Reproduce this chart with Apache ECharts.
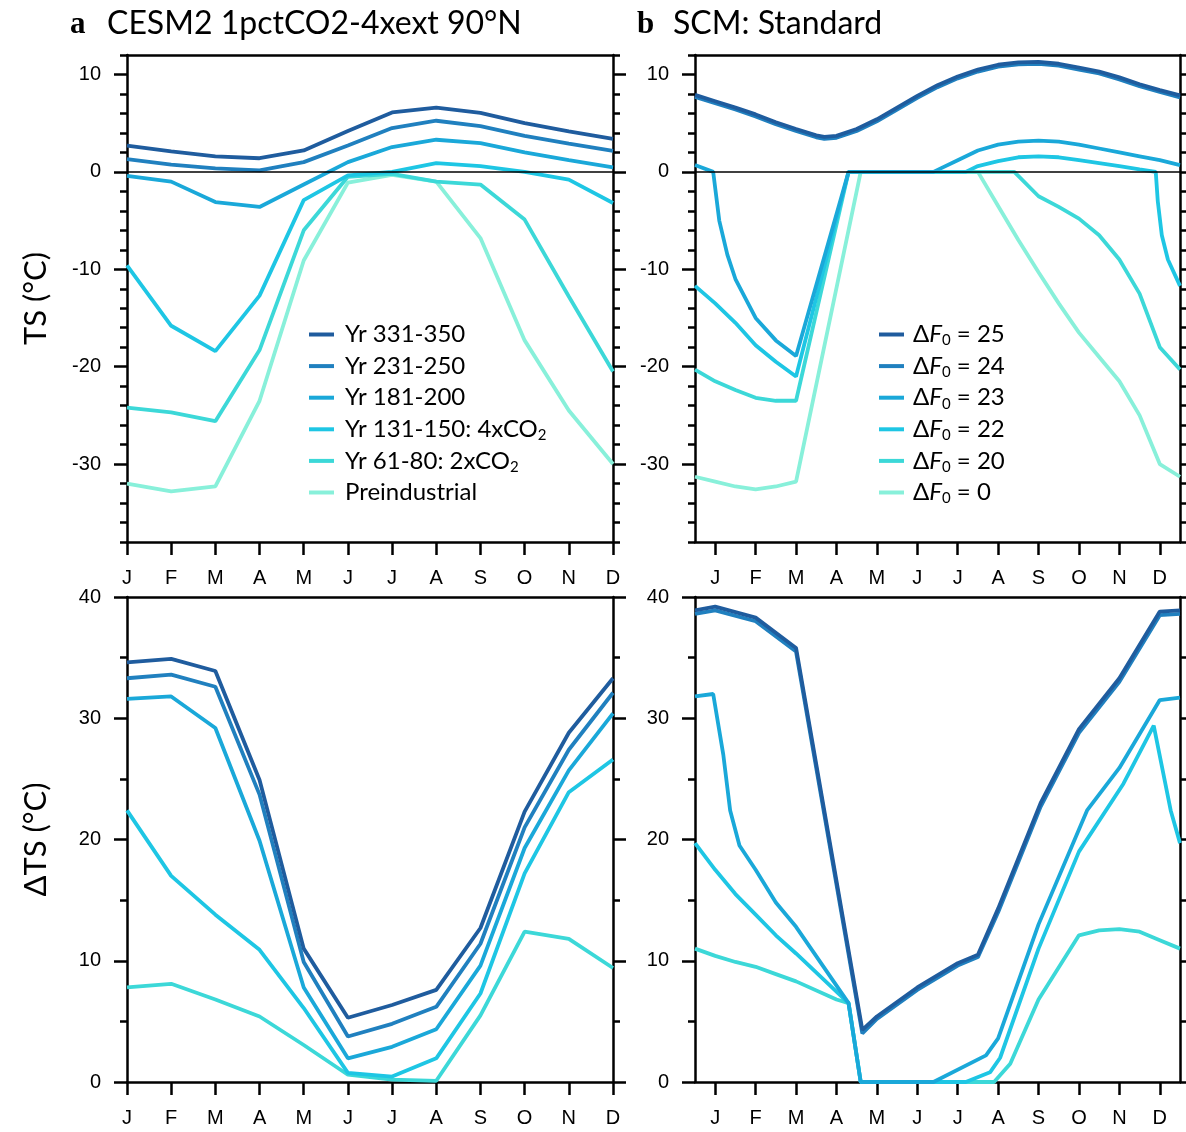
<!DOCTYPE html>
<html><head><meta charset="utf-8">
<script src="https://cdn.jsdelivr.net/npm/echarts@6/dist/echarts.min.js"></script>
<style>html,body{margin:0;padding:0;background:#fff}#c{width:1186px;height:1132px}</style>
</head><body><div id="c"></div>
<script>
// ---------- categories / ticks ----------
const months = ['J','F','M','A','M','J','J','A','S','O','N','D'];
const monthIdx = [0,1,2,3,4,5,6,7,8,9,10,11];
const tsTicks = [-30,-20,-10,0,10];
const dtsTicks = [0,10,20,30,40];

// ---------- panel a : CESM2 (monthly) ----------
const namesA = ['Yr 331-350','Yr 231-250','Yr 181-200','Yr 131-150: 4xCO2','Yr 61-80: 2xCO2','Preindustrial'];
const tsA331 = [2.7, 2.1, 1.6, 1.4, 2.2, 4.2, 6.1, 6.6, 6.05, 5.0, 4.15, 3.4];
const tsA231 = [1.3, 0.75, 0.35, 0.15, 1.0, 2.7, 4.5, 5.25, 4.7, 3.7, 2.9, 2.15];
const tsA181 = [-0.4, -1.0, -3.1, -3.6, -1.3, 1.0, 2.55, 3.3, 2.95, 2.0, 1.2, 0.45];
const tsA131 = [-9.6, -15.8, -18.4, -12.7, -2.9, -0.35, 0.0, 0.9, 0.6, 0.0, -0.8, -3.2];
const tsA61  = [-24.2, -24.7, -25.6, -18.3, -6.0, -0.5, -0.2, -1.0, -1.3, -4.9, -12.8, -20.5];
const tsAPI  = [-32.0, -32.8, -32.3, -23.5, -9.1, -1.1, -0.3, -1.0, -6.8, -17.3, -24.5, -30.0];

const dtsA331 = [34.6, 34.9, 33.9, 24.9, 11.0, 5.3, 6.35, 7.6, 12.7, 22.3, 28.8, 33.3];
const dtsA231 = [33.3, 33.6, 32.6, 23.7, 9.9, 3.75, 4.8, 6.2, 11.4, 21.0, 27.4, 32.1];
const dtsA181 = [31.6, 31.8, 29.2, 19.9, 7.8, 1.95, 2.9, 4.35, 9.6, 19.3, 25.7, 30.4];
const dtsA131 = [22.4, 17.0, 13.8, 10.9, 6.1, 0.75, 0.45, 1.95, 7.3, 17.2, 23.9, 26.6];
const dtsA61  = [7.8, 8.1, 6.8, 5.4, 3.05, 0.6, 0.2, 0.1, 5.5, 12.4, 11.8, 9.4];

// ---------- panel b : SCM ([month index, value]) ----------
const namesB = ['25','24','23','22','20','0'];
const tsB25 = [[-0.5,7.9],[0,7.25],[0.5,6.6],[1,5.9],[1.5,5.1],[2,4.4],[2.5,3.75],[2.7,3.6],[3,3.7],[3.5,4.4],[4,5.4],[4.5,6.6],[5,7.8],[5.5,8.9],[6,9.8],[6.5,10.5],[7,11.0],[7.5,11.25],[8,11.3],[8.5,11.1],[9,10.7],[9.5,10.3],[10,9.7],[10.5,9.0],[11,8.4],[11.5,7.85]];
const tsB24 = [[-0.5,7.7],[0,7.05],[0.5,6.4],[1,5.7],[1.5,4.9],[2,4.2],[2.5,3.55],[2.7,3.4],[3,3.5],[3.5,4.2],[4,5.2],[4.5,6.4],[5,7.6],[5.5,8.7],[6,9.6],[6.5,10.3],[7,10.8],[7.5,11.05],[8,11.1],[8.5,10.9],[9,10.5],[9.5,10.1],[10,9.5],[10.5,8.8],[11,8.2],[11.5,7.65]];
const tsB23 = [[-0.5,0.7],[-0.05,0],[0.1,-5],[0.3,-8.5],[0.5,-11],[1,-15],[1.5,-17.3],[2,-18.9],[3.3,0],[5.4,0],[6,1.2],[6.5,2.2],[7,2.8],[7.5,3.1],[8,3.2],[8.5,3.1],[9,2.8],[9.5,2.4],[10,2.0],[10.5,1.6],[11,1.2],[11.5,0.7]];
const tsB22 = [[-0.5,-11.7],[0,-13.5],[0.5,-15.5],[1,-17.8],[1.5,-19.5],[2,-21],[3.3,0],[6.2,0],[6.5,0.6],[7,1.1],[7.5,1.5],[8,1.6],[8.5,1.5],[9,1.2],[9.5,0.9],[10,0.6],[10.5,0.25],[10.9,0],[10.95,-3],[11.05,-6.5],[11.2,-9],[11.5,-11.7]];
const tsB20 = [[-0.5,-20.3],[0,-21.5],[0.5,-22.4],[1,-23.2],[1.5,-23.5],[2,-23.5],[3.3,0],[7.4,0],[8,-2.5],[8.5,-3.6],[9,-4.8],[9.5,-6.5],[10,-9],[10.5,-12.5],[11,-18],[11.5,-20.3]];
const tsB0  = [[-0.5,-31.3],[0,-31.8],[0.5,-32.3],[1,-32.6],[1.5,-32.3],[2,-31.8],[3.6,0],[6.5,0],[7,-3.5],[7.5,-7],[8,-10.3],[8.5,-13.5],[9,-16.5],[9.5,-19],[10,-21.5],[10.5,-25],[11,-30],[11.5,-31.3]];

const dtsB25 = [[-0.5,38.9],[0,39.2],[1,38.3],[2,35.8],[3.64,4.3],[4,5.4],[5,7.8],[6,9.8],[6.5,10.5],[7,14.3],[8.05,23],[9,29.1],[10,33.3],[11,38.8],[11.5,38.9]];
const dtsB24 = [[-0.5,38.6],[0,38.9],[1,38.0],[2,35.5],[3.64,4.0],[4,5.2],[5,7.6],[6,9.6],[6.5,10.3],[7,14.0],[8.05,22.7],[9,28.8],[10,33.0],[11,38.5],[11.5,38.6]];
const dtsB23 = [[-0.5,31.8],[-0.05,32.0],[0.2,27],[0.37,22.4],[0.6,19.5],[1,17.5],[1.5,14.8],[2,12.8],[3.3,6.5],[3.6,0],[5.4,0],[6.7,2.2],[7,3.6],[8,13],[9.2,22.4],[10,25.9],[11,31.5],[11.5,31.7]];
const dtsB22 = [[-0.5,19.7],[0,17.5],[0.5,15.5],[1,13.8],[1.5,12.1],[2,10.6],[3.3,6.5],[3.6,0],[6.2,0],[6.8,0.8],[7.05,2.0],[8,11],[9,19],[10.1,24.6],[10.85,29.4],[11.27,22.4],[11.5,19.7]];
const dtsB20 = [[-0.5,11],[0,10.4],[0.5,9.9],[1,9.5],[1.5,8.9],[2,8.3],[3,6.8],[3.3,6.5],[3.6,0],[6.9,0],[7.3,1.5],[8,6.8],[9,12.1],[9.5,12.5],[10,12.6],[10.5,12.4],[11,11.7],[11.5,11]];

// ---------- styling ----------
const colors = ['#1f5c9e','#2080bf','#1aa8d9','#1ec6e4','#3cd8d8','#88f0da'];
const LW = 3.8;
const AX = {color:'#000', width:2.5};
const tickFont = 'Liberation Sans, Arial, sans-serif';
const textFont = 'Lato, "Open Sans", sans-serif';

const grids = [
  {left:127, top:55, width:486, height:487},
  {left:695, top:55, width:485, height:487},
  {left:127, top:597, width:486, height:485},
  {left:695, top:597, width:485, height:485}
];

function xAxesFor(g, min, max) {
  return [
    {type:'value', gridIndex:g, position:'bottom', min, max,
     axisLine:{show:true, onZero:false, lineStyle:AX},
     axisTick:{show:true, inside:false, length:13, customValues:monthIdx, lineStyle:AX},
     axisLabel:{show:true, customValues:monthIdx, formatter:v=>months[Math.round(v)], fontSize:20, fontFamily:tickFont, color:'#000', margin:26},
     splitLine:{show:false}},
    {type:'value', gridIndex:g, position:'top', min, max,
     axisLine:{show:true, onZero:false, lineStyle:AX},
     axisTick:{show:false}, axisLabel:{show:false}, splitLine:{show:false}}
  ];
}
function yAxesFor(g, min, max, ticks, minorStep, name) {
  const base = {type:'value', gridIndex:g, min, max, splitLine:{show:false}};
  return [
    Object.assign({}, base, {position:'left',
      axisLine:{show:true, onZero:false, lineStyle:AX},
      axisTick:{show:true, length:13, customValues:ticks, lineStyle:AX},
      axisLabel:{show:true, customValues:ticks, fontSize:20, fontFamily:tickFont, color:'#000', margin:26},
      name:name, nameLocation:'middle', nameGap:76, nameRotate:90,
      nameTextStyle:{fontSize:31, fontFamily:textFont, color:'#000'}}),
    Object.assign({}, base, {position:'left', interval:minorStep,
      axisLine:{show:false, onZero:false}, axisTick:{show:true, length:7, lineStyle:AX}, axisLabel:{show:false}}),
    Object.assign({}, base, {position:'right',
      axisLine:{show:true, onZero:false, lineStyle:AX},
      axisTick:{show:true, length:13, customValues:ticks, lineStyle:AX}, axisLabel:{show:false}}),
    Object.assign({}, base, {position:'right', interval:minorStep,
      axisLine:{show:false, onZero:false}, axisTick:{show:true, length:7, lineStyle:AX}, axisLabel:{show:false}})
  ];
}

const xAxis = [].concat(
  xAxesFor(0, 0, 11), xAxesFor(1, -0.5, 11.5), xAxesFor(2, 0, 11), xAxesFor(3, -0.5, 11.5));
const yAxis = [].concat(
  yAxesFor(0, -38, 12, tsTicks, 2, 'TS (°C)'),
  yAxesFor(1, -38, 12, tsTicks, 2, ''),
  yAxesFor(2, 0, 40, dtsTicks, 5, 'ΔTS (°C)'),
  yAxesFor(3, 0, 40, dtsTicks, 5, ''));

function line(name, data, color, g, extra) {
  return Object.assign({type:'line', name, data, xAxisIndex:2*g, yAxisIndex:4*g,
    symbol:'none', showSymbol:false, color, itemStyle:{color},
    lineStyle:{color, width:LW}, animation:false, silent:true}, extra||{});
}
const idx = arr => arr.map((v,i)=>[i,v]);
const zeroLine = {silent:true, symbol:['none','none'], label:{show:false},
  lineStyle:{color:'#000', width:1.5, type:'solid'}, data:[{yAxis:0}], animation:false};

const tsA = [tsA331, tsA231, tsA181, tsA131, tsA61, tsAPI];
const dtsA = [dtsA331, dtsA231, dtsA181, dtsA131, dtsA61];
const tsB = [tsB25, tsB24, tsB23, tsB22, tsB20, tsB0];
const dtsB = [dtsB25, dtsB24, dtsB23, dtsB22, dtsB20];

const series = [];
for (let i = 5; i >= 0; i--) series.push(line(namesA[i], idx(tsA[i]), colors[i], 0, i===5?{markLine:zeroLine}:{}));
for (let i = 5; i >= 0; i--) series.push(line(namesB[i], tsB[i], colors[i], 1, i===5?{markLine:zeroLine}:{}));
for (let i = 4; i >= 0; i--) series.push(line(namesA[i], idx(dtsA[i]), colors[i], 2));
for (let i = 4; i >= 0; i--) series.push(line(namesB[i], dtsB[i], colors[i], 3));

function legendText(padW) {
  return {fontSize:24, fontFamily:textFont, color:'#000',
    rich:{p:{width:padW, lineHeight:28},
          t:{fontSize:24, fontFamily:textFont, color:'#000', lineHeight:28},
          s:{fontSize:15, fontFamily:textFont, color:'#000', lineHeight:16, padding:[12,0,0,0]},
          f:{fontSize:24, fontFamily:textFont, fontStyle:'italic', color:'#000', lineHeight:28}}};
}

const option = {
  backgroundColor:'#fff',
  animation:false,
  title:[
    {text:'a', left:65, top:4, textStyle:{fontSize:31, fontWeight:'bold', fontFamily:'Liberation Serif, serif', color:'#000'}},
    {text:'CESM2 1pctCO2-4xext 90°N', left:102, top:3, textStyle:{fontSize:32, fontWeight:'normal', fontFamily:textFont, color:'#000'}},
    {text:'b', left:632, top:4, textStyle:{fontSize:31, fontWeight:'bold', fontFamily:'Liberation Serif, serif', color:'#000'}},
    {text:'SCM: Standard', left:668, top:3, textStyle:{fontSize:32, fontWeight:'normal', fontFamily:textFont, color:'#000'}}
  ],
  legend:[
    {orient:'vertical', left:304, top:316, itemGap:4.6, itemWidth:25, itemHeight:4, icon:'rect',
     data:namesA, selectedMode:false, textStyle:legendText(6),
     formatter:n=>{
       const m = n.match(/^(.*CO)2$/);
       return m ? '{p|}{t|'+m[1]+'}{s|2}' : '{p|}{t|'+n+'}{s| }';
     }},
    {orient:'vertical', left:874, top:316, itemGap:4.6, itemWidth:25, itemHeight:4, icon:'rect',
     data:namesB, selectedMode:false, textStyle:legendText(4),
     formatter:n=>'{p|}{t|Δ}{f|F}{s|0}{t| = '+n+'}'}
  ],
  grid:grids,
  xAxis, yAxis, series
};
const chart = echarts.init(document.getElementById('c'));
chart.setOption(option);
</script></body></html>
